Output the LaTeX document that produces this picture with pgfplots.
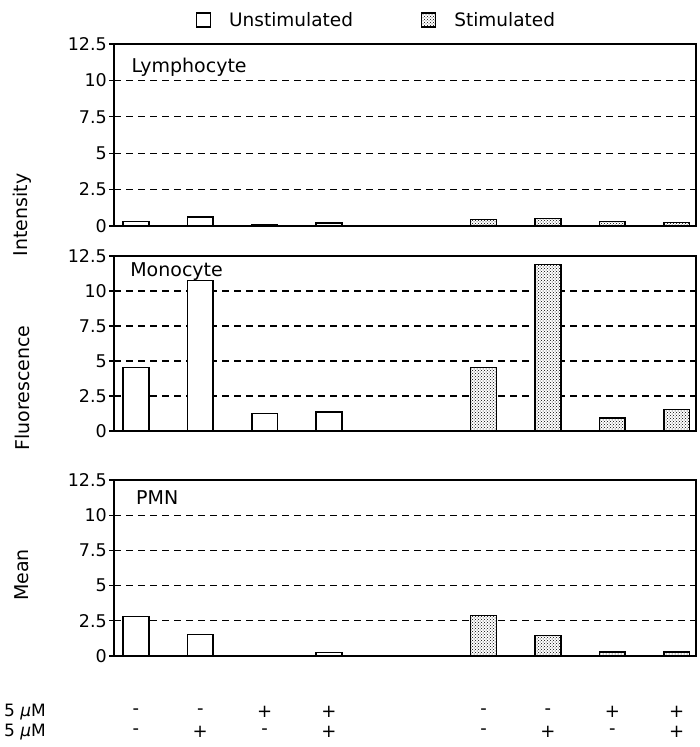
\documentclass[border=0pt]{standalone}
\usepackage{fontspec}
\setmainfont{DejaVu Sans}
\usepackage{pgfplots}
\pgfplotsset{compat=1.18}
\usetikzlibrary{patterns}

\pgfplotsset{
 panel/.style={
  scale only axis, width=582pt,
  xmin=-0.34, xmax=8.70, ymin=0, ymax=12.5,
  ytick={0,2.5,5,7.5,10,12.5},
  yticklabels={0,2.5,5,7.5,10,12.5},
  xtick=\empty,
  ytick pos=left, tick align=outside, major tick length=5pt,
  ymajorgrids, grid style={black, line width=1.2pt, dash pattern=on 7pt off 5pt},
  axis line style={line width=1.3pt},
  tick style={black, line width=1.1pt},
  yticklabel style={font=\fontsize{17.5}{19}\selectfont, inner sep=2pt},
  /pgf/number format/assume math mode=true,
  anchor=south west, clip=false,
 },
 unst/.style={ybar, bar width=0.4, draw=black, line width=1.5pt, fill=white},
 stim/.style={ybar, bar width=0.4, draw=black, line width=1.5pt, fill=white, postaction={pattern=crosshatch dots}},
}

\begin{document}
\begin{tikzpicture}[x=1pt,y=1pt]
\useasboundingbox (0,0) rectangle (700,747);

% Lymphocyte
\begin{axis}[panel, height=182pt, at={(114pt,521pt)},
  legend columns=2,
  legend image code/.code={\draw[#1, line width=1.2pt] (0pt,-7pt) rectangle (14pt,7pt);},
  legend style={draw=none, fill=none, at={(0.451,1.132)}, anchor=center,
    font=\fontsize{18.5}{20}\selectfont,
    /tikz/every odd column/.append style={column sep=16pt},
    /tikz/every even column/.append style={column sep=66pt}},
  ]
\addplot[unst] coordinates {(0,0.3) (1,0.63) (2,0.1) (3,0.2)};
\addplot[stim] coordinates {(5.4,0.45) (6.4,0.52) (7.4,0.3) (8.4,0.25)};
\legend{Unstimulated, Stimulated}
\node[anchor=base west, font=\fontsize{19}{21}\selectfont] at (rel axis cs:0.024,0.846) {Lymphocyte};
\end{axis}

% Monocyte
\begin{axis}[panel, height=175pt, at={(114pt,316pt)}]
\addplot[unst] coordinates {(0,4.53) (1,10.75) (2,1.25) (3,1.36)};
\addplot[stim] coordinates {(5.4,4.53) (6.4,11.9) (7.4,0.93) (8.4,1.55)};
\node[anchor=base west, font=\fontsize{19}{21}\selectfont] at (rel axis cs:0.022,0.882) {Monocyte};
\end{axis}

% PMN
\begin{axis}[panel, height=176pt, at={(114pt,91pt)}]
\addplot[unst] coordinates {(0,2.82) (1,1.54) (2,0.03) (3,0.26)};
\addplot[stim] coordinates {(5.4,2.89) (6.4,1.47) (7.4,0.3) (8.4,0.3)};
\node[anchor=base west, font=\fontsize{19}{21}\selectfont] at (rel axis cs:0.032,0.858) {PMN};
\begin{scope}[every node/.style={font=\fontsize{18}{20}\selectfont}]
\node at (axis cs:0,-3.98) {-};
\node at (axis cs:1,-3.98) {-};
\node at (axis cs:2,-3.98) {+};
\node at (axis cs:3,-3.98) {+};
\node at (axis cs:5.4,-3.98) {-};
\node at (axis cs:6.4,-3.98) {-};
\node at (axis cs:7.4,-3.98) {+};
\node at (axis cs:8.4,-3.98) {+};
\node at (axis cs:0,-5.40) {-};
\node at (axis cs:1,-5.40) {+};
\node at (axis cs:2,-5.40) {-};
\node at (axis cs:3,-5.40) {+};
\node at (axis cs:5.4,-5.40) {-};
\node at (axis cs:6.4,-5.40) {+};
\node at (axis cs:7.4,-5.40) {-};
\node at (axis cs:8.4,-5.40) {+};
\end{scope}
\end{axis}

% y label pieces
\node[rotate=90, font=\fontsize{19}{21}\selectfont] at (22,532) {Intensity};
\node[rotate=90, font=\fontsize{19}{21}\selectfont] at (22,359) {Fluorescence};
\node[rotate=90, font=\fontsize{19}{21}\selectfont] at (22,172) {Mean};

% row labels
\node[anchor=west, font=\fontsize{17}{19}\selectfont, inner sep=0pt] at (4,35) {5 \textit{μ}M};
\node[anchor=west, font=\fontsize{17}{19}\selectfont, inner sep=0pt] at (4,15) {5 \textit{μ}M};
\end{tikzpicture}
\end{document}
